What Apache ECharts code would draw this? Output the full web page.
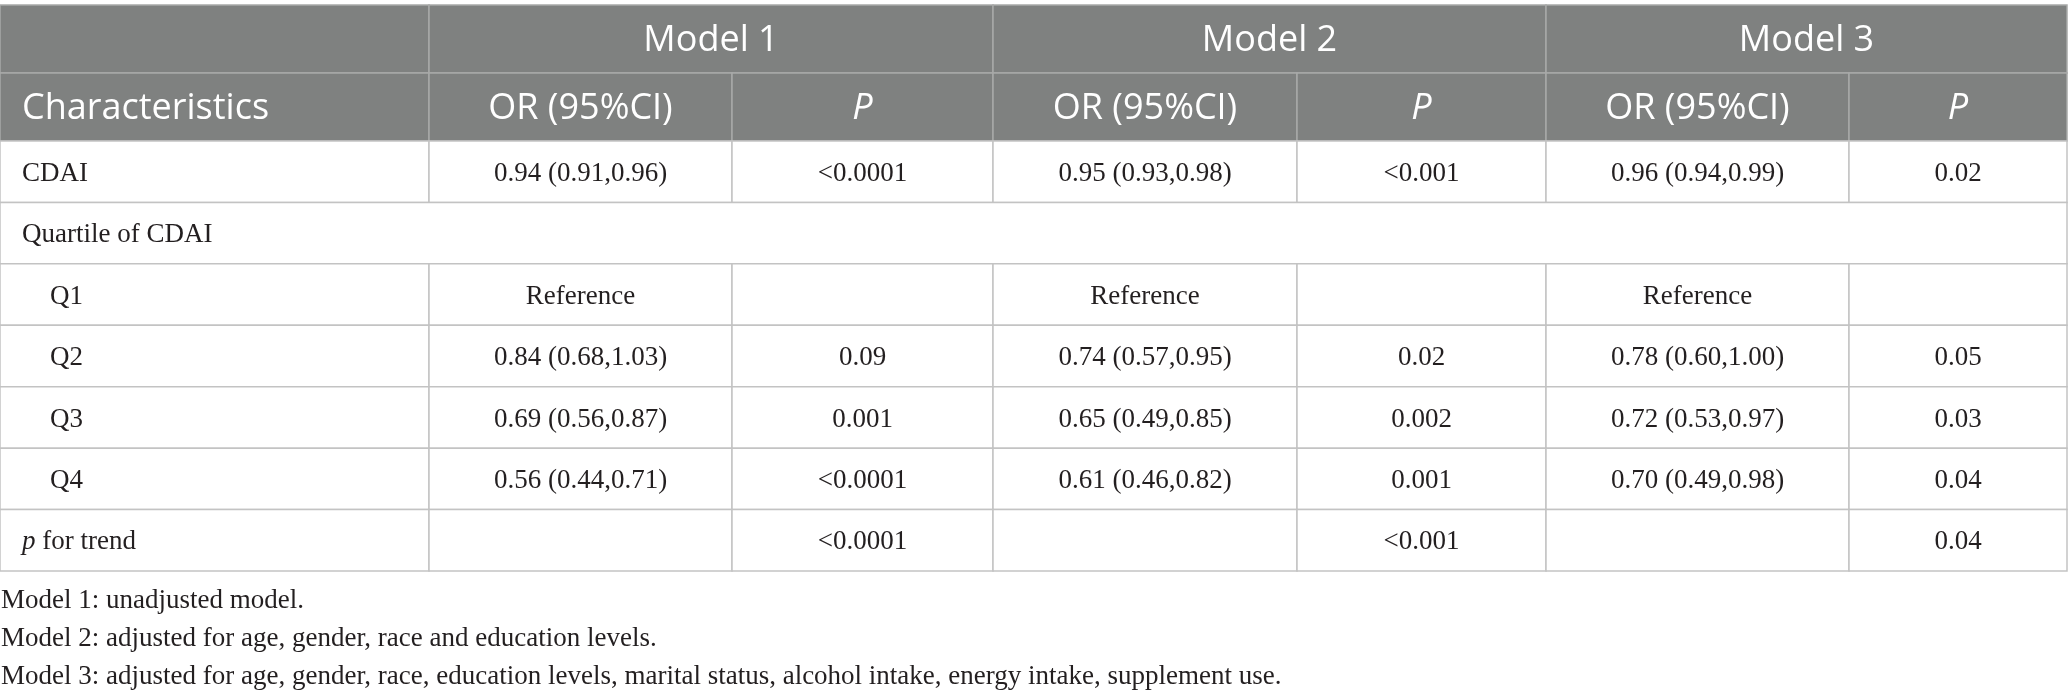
<!DOCTYPE html>
<html>
<head>
<meta charset="utf-8">
<title>OR table</title>
<script src="https://cdn.jsdelivr.net/npm/echarts@6/dist/echarts.min.js"></script>
<style>
  html, body { margin: 0; padding: 0; background: #ffffff; }
  #chart { width: 2068px; height: 698px; }
</style>
</head>
<body>
<div id="chart"></div>
<script>
// Table content
const modelNames = ['Model 1', 'Model 2', 'Model 3'];
const columnHeaders = ['OR (95%CI)', 'P'];
const firstHeader = 'Characteristics';
const rowLabels = ['CDAI', 'Quartile of CDAI', 'Q1', 'Q2', 'Q3', 'Q4', 'p for trend'];
const spanningRows = ['Quartile of CDAI'];
const indentedRows = ['Q1', 'Q2', 'Q3', 'Q4'];

const model1OR = ['0.94 (0.91,0.96)', '', 'Reference', '0.84 (0.68,1.03)', '0.69 (0.56,0.87)', '0.56 (0.44,0.71)', ''];
const model1P = ['<0.0001', '', '', '0.09', '0.001', '<0.0001', '<0.0001'];
const model2OR = ['0.95 (0.93,0.98)', '', 'Reference', '0.74 (0.57,0.95)', '0.65 (0.49,0.85)', '0.61 (0.46,0.82)', ''];
const model2P = ['<0.001', '', '', '0.02', '0.002', '0.001', '<0.001'];
const model3OR = ['0.96 (0.94,0.99)', '', 'Reference', '0.78 (0.60,1.00)', '0.72 (0.53,0.97)', '0.70 (0.49,0.98)', ''];
const model3P = ['0.02', '', '', '0.05', '0.03', '0.04', '0.04'];

const footnotes = [
  'Model 1: unadjusted model.',
  'Model 2: adjusted for age, gender, race and education levels.',
  'Model 3: adjusted for age, gender, race, education levels, marital status, alcohol intake, energy intake, supplement use.'
];

// Layout of the table scale (axis units)
const colEdges = [0, 429, 732, 993, 1297, 1546, 1849, 2067];
const headerRowHeight = 68;
const bodyRowHeight = 61.43;

const HEAD_FONT = '"Open Sans", "Noto Sans", sans-serif';
const BODY_FONT = '"Liberation Serif", "DejaVu Serif", serif';

function buildCells() {
  const cells = [];
  const modelOR = [model1OR, model2OR, model3OR];
  const modelP = [model1P, model2P, model3P];
  const tableRight = colEdges[colEdges.length - 1];

  // header row 1
  cells.push({ value: [0, colEdges[1], 0, headerRowHeight], text: '', kind: 'head' });
  modelNames.forEach((name, m) => {
    cells.push({
      value: [colEdges[1 + 2 * m], colEdges[3 + 2 * m], 0, headerRowHeight],
      text: name, kind: 'head'
    });
  });

  // header row 2
  const y1 = headerRowHeight;
  const y2 = headerRowHeight * 2;
  cells.push({ value: [0, colEdges[1], y1, y2], text: firstHeader, kind: 'head', align: 'left', pad: 22 });
  modelNames.forEach((name, m) => {
    columnHeaders.forEach((h, k) => {
      cells.push({
        value: [colEdges[1 + 2 * m + k], colEdges[2 + 2 * m + k], y1, y2],
        text: h, kind: 'head', italic: h === 'P'
      });
    });
  });

  // body rows
  rowLabels.forEach((label, r) => {
    const top = y2 + r * bodyRowHeight;
    const bottom = top + bodyRowHeight;
    const pad = indentedRows.includes(label) ? 50 : 22;
    const text = label === 'p for trend' ? '{i|p} for trend' : label;

    if (spanningRows.includes(label)) {
      cells.push({ value: [0, tableRight, top, bottom], text: text, kind: 'body', align: 'left', pad: pad });
      return;
    }
    cells.push({ value: [0, colEdges[1], top, bottom], text: text, kind: 'body', align: 'left', pad: pad });
    modelNames.forEach((name, m) => {
      cells.push({ value: [colEdges[1 + 2 * m], colEdges[2 + 2 * m], top, bottom], text: modelOR[m][r], kind: 'body' });
      cells.push({ value: [colEdges[2 + 2 * m], colEdges[3 + 2 * m], top, bottom], text: modelP[m][r], kind: 'body' });
    });
  });

  return cells;
}

const cells = buildCells();
const tableHeight = headerRowHeight * 2 + bodyRowHeight * rowLabels.length;

function renderCell(params, api) {
  const cell = cells[params.dataIndex];
  const p0 = api.coord([api.value(0), api.value(2)]);
  const p1 = api.coord([api.value(1), api.value(3)]);
  const isHead = cell.kind === 'head';
  const width = p1[0] - p0[0];
  const height = p1[1] - p0[1];
  const align = cell.align || 'center';
  const textX = align === 'left' ? p0[0] + cell.pad : p0[0] + width / 2;

  return {
    type: 'group',
    children: [
      {
        type: 'rect',
        shape: { x: p0[0], y: p0[1], width: width, height: height },
        style: {
          fill: isHead ? '#7f8180' : '#ffffff',
          stroke: isHead ? '#a8a9a8' : '#c3c3c3',
          lineWidth: 1.5
        },
        z2: isHead ? 1 : 2
      },
      {
        type: 'text',
        x: textX,
        y: p0[1] + height / 2 + 2,
        style: {
          text: cell.text,
          fill: isHead ? '#ffffff' : '#231f20',
          font: (cell.italic ? 'italic ' : '') + (isHead ? '36px ' + HEAD_FONT : '27px ' + BODY_FONT),
          align: align,
          verticalAlign: 'middle',
          rich: {
            i: { fontStyle: 'italic', fontFamily: BODY_FONT, fontSize: 27, fill: '#231f20' }
          }
        },
        z2: 10
      }
    ]
  };
}

const chart = echarts.init(document.getElementById('chart'));

const option = {
  animation: false,
  grid: { left: 0, right: 1, top: 5, height: tableHeight },
  xAxis: {
    type: 'value', min: 0, max: colEdges[colEdges.length - 1],
    show: false, splitLine: { show: false }
  },
  yAxis: {
    type: 'value', min: 0, max: tableHeight, inverse: true,
    show: false, splitLine: { show: false }
  },
  series: [
    {
      type: 'custom',
      renderItem: renderCell,
      encode: { x: [0, 1], y: [2, 3] },
      data: cells.map(c => c.value),
      silent: true
    }
  ],
  graphic: footnotes.map((note, i) => ({
    type: 'text',
    x: 1,
    y: 601 + i * 38,
    style: {
      text: note,
      font: '27px ' + BODY_FONT,
      fill: '#231f20',
      verticalAlign: 'middle'
    }
  }))
};

chart.setOption(option);
</script>
</body>
</html>
